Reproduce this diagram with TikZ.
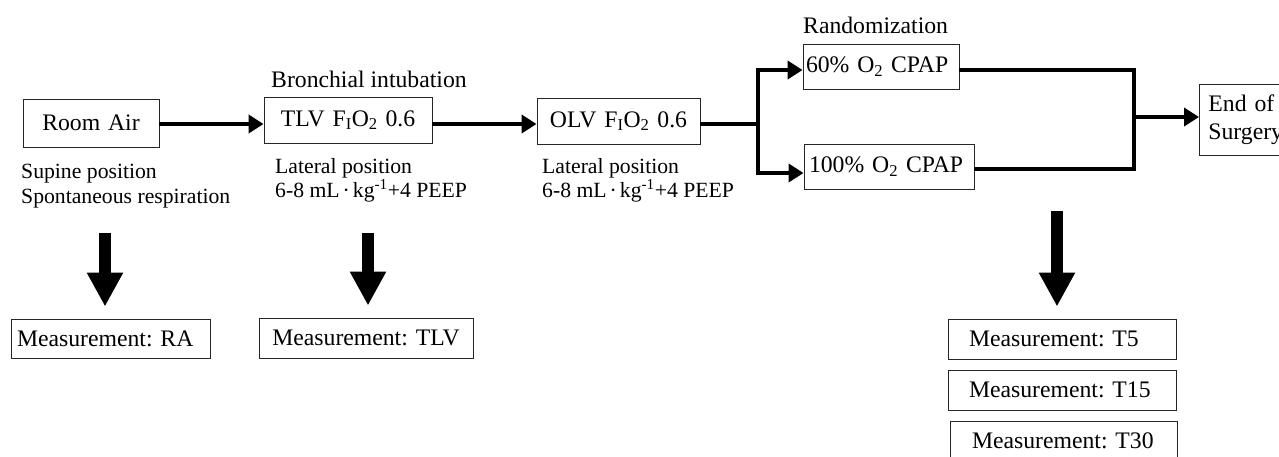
\documentclass[tikz,border=0pt]{standalone}
\usepackage{fontspec}
\setmainfont{Liberation Serif}
\usetikzlibrary{arrows.meta}
\newcommand{\fbig}{\fontsize{23.7}{28}\selectfont}
\newcommand{\fsmall}{\fontsize{21.7}{24}\selectfont}
\frenchspacing
\begin{document}
\begin{tikzpicture}[x=1pt,y=-1pt,
  box/.style={draw=black!85, line width=0.9pt, inner ysep=0pt, font=\fbig, align=left},
  lab/.style={inner sep=0pt, anchor=base west, font=\fsmall},
  harrow/.style={line width=4.5pt, -{Triangle[length=15pt 0,width=18pt 0]}},
  hline/.style={line width=4.5pt, line join=miter},
  bigarrow/.style={line width=12pt, -{Triangle[length=34pt 0,width=34pt 0]}, shorten >=12pt}]
\useasboundingbox (0,0) rectangle (1279,456);
\clip (0,0) rectangle (1279,456);

% boxes
\node[box, minimum height=48pt, text width=124pt, inner xsep=6pt, align=center] (ra) at (91,123) {Room Air};
\node[box, minimum height=46pt, text width=156pt, inner xsep=6pt, align=center] (tlv) at (348,120) {TLV F\textsubscript{I}O\textsubscript{2} 0.6};
\node[box, minimum height=46pt, text width=151pt, inner xsep=6pt, align=center] (olv) at (618.5,121) {OLV F\textsubscript{I}O\textsubscript{2} 0.6};
\node[box, minimum height=45pt, text width=150pt, inner xsep=3pt] (p60) at (881,66.5) {60\% O\textsubscript{2} CPAP};
\node[box, minimum height=45pt, text width=160pt, inner xsep=5pt] (p100) at (889,166.5) {100\% O\textsubscript{2} CPAP};
\node[box, anchor=north west, minimum height=71pt, text width=82pt, inner xsep=9pt] (end) at (1199,84) {End of\\Surgery};

\node[box, minimum height=39pt, text width=187pt, inner xsep=6pt] (mra) at (110.5,338.5) {Measurement: RA};
\node[box, minimum height=40pt, text width=202pt, inner xsep=6pt, align=center] (mtlv) at (366,338) {Measurement: TLV};
\node[box, minimum height=40pt, text width=196pt, inner xsep=16pt] (t5) at (1062,339) {\hspace{5pt}Measurement: T5};
\node[box, minimum height=40pt, text width=196pt, inner xsep=16pt] (t15) at (1062,390) {\hspace{5pt}Measurement: T15};
\node[box, minimum height=40pt, text width=197pt, inner xsep=15pt] (t30) at (1063.5,441) {\hspace{7pt}Measurement: T30};

% labels
\node[lab, font=\fbig] (bi) at (271,87) {Bronchial intubation};
\node[lab, font=\fbig] (rnd) at (803,33) {Randomization};
\node[lab] (sup) at (21,178) {Supine position};
\node[lab] (spo) at (21,203) {Spontaneous respiration};
\node[lab] (lat1) at (275,173) {Lateral position};
\node[lab] (vt1) at (275,197) {6-8 mL\hspace{3pt}·\hspace{3pt}kg\textsuperscript{-1}+4 PEEP};
\node[lab] (lat2) at (542,173) {Lateral position};
\node[lab] (vt2) at (542,197) {6-8 mL\hspace{3pt}·\hspace{3pt}kg\textsuperscript{-1}+4 PEEP};

% coordinates
\coordinate (rowA) at (0,124);
\coordinate (r60) at (0,70);
\coordinate (r100) at (0,173);
\coordinate (r100b) at (0,169);
\coordinate (split) at (758,124);
\coordinate (merge) at (1134,117);
\coordinate (a1) at (105,233);
\coordinate (a2) at (368,233);
\coordinate (a3) at (1057,211);

% connectors
\draw[harrow] (ra.east |- rowA) -- (tlv.west |- rowA);
\draw[harrow] (tlv.east |- rowA) -- (olv.west |- rowA);
\draw[hline] (olv.east |- rowA) -- (split);
\draw[harrow, line join=miter] (split) |- (p60.west |- r60);
\draw[harrow, line join=miter] (split) |- (p100.west |- r100);
\draw[hline] (p60.east |- r60) -| (merge);
\draw[hline] (p100.east |- r100b) -| (merge);
\draw[harrow] (merge) -- (end.west |- merge);

\draw[bigarrow] (a1) -- (a1 |- mra.north);
\draw[bigarrow] (a2) -- (a2 |- mtlv.north);
\draw[bigarrow] (a3) -- (a3 |- t5.north);
\end{tikzpicture}
\end{document}
